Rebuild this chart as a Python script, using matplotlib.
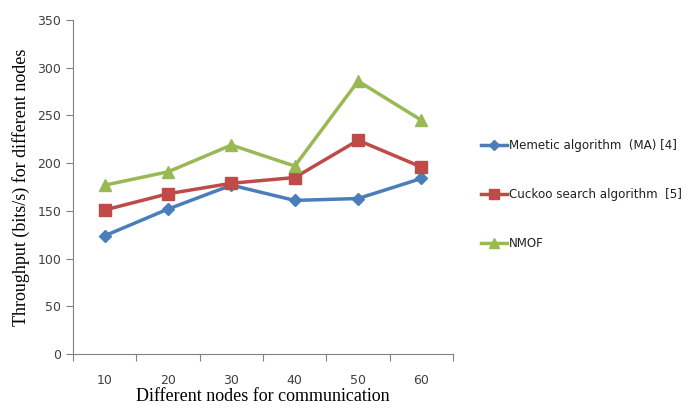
import matplotlib
matplotlib.use("Agg")
import matplotlib.pyplot as plt
import numpy as np

# nodes on the x axis and throughput per method
nodes = ["10", "20", "30", "40", "50", "60"]
memetic = [124, 152, 177, 161, 163, 184]
cuckoo = [151, 168, 179, 185, 224, 196]
nmof = [177, 191, 219, 197, 286, 245]

series = [
    ("Memetic algorithm  (MA) [4]", memetic, "#4A7EBB", "D", 6),
    ("Cuckoo search algorithm  [5]", cuckoo, "#BE4B48", "s", 8),
    ("NMOF", nmof, "#98B954", "^", 8),
]

fig = plt.figure(figsize=(6.96, 4.08), dpi=100)
ax = fig.add_axes([0.105, 0.132, 0.546, 0.819])

x = np.arange(len(nodes)) + 0.5
for name, vals, col, mk, ms in series:
    ax.plot(x, vals, color=col, lw=2.5, marker=mk, ms=ms, label=name)

ax.set_xlim(0, len(nodes))
ax.set_ylim(0, 350)
ax.set_yticks(range(0, 351, 50))
ax.set_xticks(np.arange(len(nodes) + 1))
ax.set_xticklabels([])
ax.set_xticks(x, minor=True)
ax.set_xticklabels(nodes, minor=True)
ax.tick_params(axis="x", which="minor", length=0, pad=14)
ax.tick_params(axis="x", which="major", length=5, color="#808080")
ax.tick_params(axis="y", length=5, color="#808080")
for lab in ax.get_yticklabels() + ax.get_xticklabels(minor=True):
    lab.set_fontsize(9)
    lab.set_color("#404040")
    lab.set_family("DejaVu Sans")

for s in ["top", "right"]:
    ax.spines[s].set_visible(False)
for s in ["left", "bottom"]:
    ax.spines[s].set_color("#808080")

ax.set_ylabel("Throughput (bits/s) for different nodes", family="Liberation Serif",
              fontsize=13, labelpad=5)
ax.set_xlabel("Different nodes for communication", family="Liberation Serif",
              fontsize=13, labelpad=1)

leg = fig.legend(loc="upper left", bbox_to_anchor=(0.675, 0.685), frameon=False,
                 fontsize=8.6, handlelength=2.2, handletextpad=0.2, labelspacing=3.0,
                 markerscale=0.85)
for t in leg.get_texts():
    t.set_color("#202020")

fig.savefig("out.png", dpi=100)
